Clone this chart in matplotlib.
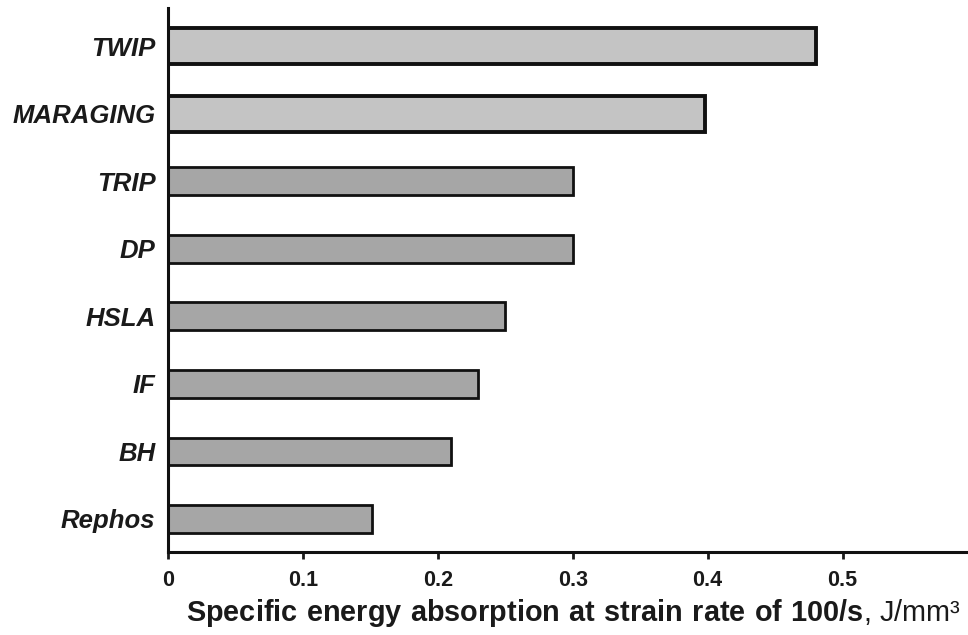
import matplotlib
matplotlib.use("Agg")
import matplotlib.pyplot as plt
import numpy as np

# steel grades, bottom to top
steels = ["Rephos", "BH", "IF", "HSLA", "DP", "TRIP", "MARAGING", "TWIP"]
energy = [0.151, 0.21, 0.23, 0.25, 0.30, 0.30, 0.398, 0.48]
highlight = [False, False, False, False, False, False, True, True]

plt.rcParams["font.family"] = ["Liberation Sans", "DejaVu Sans"]
plt.rcParams["mathtext.fontset"] = "custom"
plt.rcParams["mathtext.bf"] = "Liberation Sans:bold"
plt.rcParams["mathtext.rm"] = "Liberation Sans"

fig = plt.figure(figsize=(9.68, 6.35), dpi=100)
ax = fig.add_axes([0.1736, 0.1307, 0.8264, 0.8563])

y = np.arange(len(steels))
heights = [0.53 if h else 0.41 for h in highlight]
colors = ["#c4c4c4" if h else "#a6a6a6" for h in highlight]
lws = [2.8 if h else 2.0 for h in highlight]
ax.barh(y, energy, height=heights, color=colors, edgecolor="#111111", linewidth=lws)

ax.set_xlim(0, 0.593)
ax.set_ylim(-0.49, 7.56)
ax.set_xticks([0, 0.1, 0.2, 0.3, 0.4, 0.5])
ax.set_xticklabels(["0", "0.1", "0.2", "0.3", "0.4", "0.5"], fontsize=15.5, fontweight="bold")
ax.set_yticks(y)
ax.set_yticklabels(steels, fontsize=18.5, fontweight="bold", fontstyle="italic", color="#1a1a1a")
ax.tick_params(axis="y", length=0, pad=9)
ax.tick_params(axis="x", length=5, width=2, pad=8, colors="#1a1a1a")

for s in ["top", "right"]:
    ax.spines[s].set_visible(False)
for s in ["left", "bottom"]:
    ax.spines[s].set_linewidth(2.2)
    ax.spines[s].set_color("#111111")

ax.set_xlabel(r"$\mathbf{Specific\ energy\ absorption\ at\ strain\ rate\ of\ 100/s}$, J/mm³",
              fontsize=20.8, color="#1a1a1a")
ax.xaxis.set_label_coords(0.5 * (185 + 962) / 968 / 0.8264 - 0.1736 / 0.8264, -0.083)

fig.savefig("out.png", dpi=100)
